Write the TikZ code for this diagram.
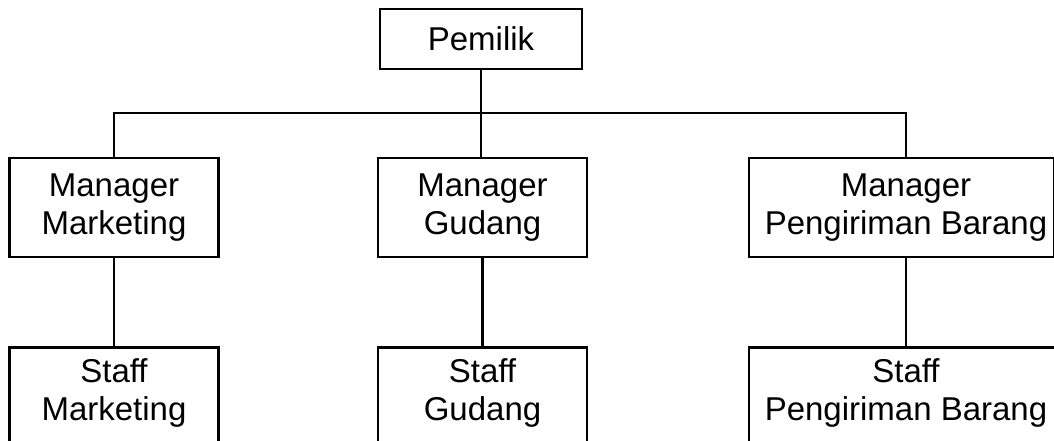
\documentclass[tikz,border=0pt]{standalone}
\usepackage{fontspec}
\setmainfont{Liberation Sans}
\begin{document}
\begin{tikzpicture}[x=1pt,y=-1pt,
  box/.style={draw=black, line width=2.6pt, align=center, inner sep=0pt,
    font=\fontsize{33}{38}\selectfont, fill=white},
  txt/.style={align=center, inner sep=0pt, font=\fontsize{33}{38}\selectfont},
  conn/.style={draw=black, line width=2.6pt}]
\useasboundingbox (0,0) rectangle (1054,441);
\clip (0,0) rectangle (1054,441);
\fill[white] (0,0) rectangle (1054,441);
\coordinate (bar) at (0,113);
\node[box, minimum width=202pt, minimum height=60pt] (pm) at (481,39) {Pemilik};
\node[box, minimum width=209pt, minimum height=99pt] (mm) at (114,207.5) {Manager\\Marketing};
\node[box, minimum width=209pt, minimum height=99pt] (mg) at (482.5,207.5) {Manager\\Gudang};
\node[box, minimum width=305pt, minimum height=99pt] (mp) at (901.5,207.5) {};
\node[txt] (mpt) at (906,207.5) {Manager\\Pengiriman Barang};
\node[box, minimum width=209pt, minimum height=140pt, anchor=north] (sm) at (114,346) {};
\node[box, minimum width=209pt, minimum height=140pt, anchor=north] (sg) at (482.5,346) {};
\node[box, minimum width=314pt, minimum height=140pt, anchor=north] (sp) at (906,346) {};
\node[txt] (smt) at ([yshift=-46.5pt]sm.north) {Staff\\Marketing};
\node[txt] (sgt) at ([yshift=-46.5pt]sg.north) {Staff\\Gudang};
\node[txt] (spt) at ([yshift=-46.5pt]sp.north) {Staff\\Pengiriman Barang};
\draw[conn] (pm.south) -- (pm.south |- mg.north);
\draw[conn] (mm.north) -- (mm.north |- bar) -- (mpt.center |- bar) -- (mpt.center |- mp.north);
\draw[conn] (mm.south) -- (sm.north);
\draw[conn] (mg.south) -- (sg.north);
\draw[conn] (mpt.center |- mp.south) -- (sp.north);
\end{tikzpicture}
\end{document}
